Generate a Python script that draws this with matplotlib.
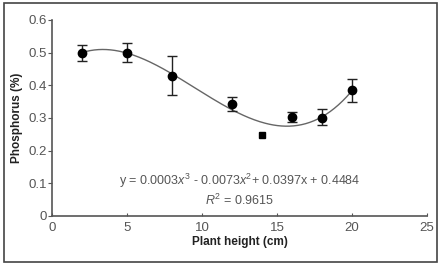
import matplotlib
matplotlib.use("Agg")
import matplotlib.pyplot as plt
from matplotlib.patches import Rectangle
import numpy as np

# mean values with error bars
height = [2, 5, 8, 12, 16, 18, 20]
phosphorus = [0.50, 0.50, 0.43, 0.343, 0.303, 0.30, 0.385]
err_low = [0.025, 0.03, 0.06, 0.023, 0.015, 0.022, 0.035]
err_high = [0.022, 0.03, 0.06, 0.021, 0.015, 0.027, 0.035]

# outlier point (square)
out_x = [14]
out_y = [0.248]

# points
curve_x = [2, 3.2, 5, 8, 11.4, 15.6, 18, 20]
curve_y = [0.50, 0.51, 0.50, 0.43, 0.345, 0.275, 0.30, 0.385]

FONT = ["Liberation Sans Narrow", "Liberation Sans", "DejaVu Sans"]
GREY = "#555555"
plt.rcParams["font.family"] = FONT
plt.rcParams["mathtext.fontset"] = "custom"
plt.rcParams["mathtext.rm"] = "Liberation Sans"
plt.rcParams["mathtext.it"] = "Liberation Sans:italic"

fig = plt.figure(figsize=(4.46, 2.70), dpi=100)
fig.patch.set_facecolor("white")
ax = fig.add_axes([0.117, 0.2, 0.84, 0.726])

coef = np.polyfit(curve_x, curve_y, 3)
xs = np.linspace(2, 20, 200)
ax.plot(xs, np.polyval(coef, xs), color="#666666", lw=1.0, zorder=1)

ax.errorbar(height, phosphorus, yerr=[err_low, err_high], fmt="o", color="black",
            ms=6, ecolor="#222222", elinewidth=1.0, capsize=3.5, capthick=1.0, zorder=3)
ax.plot(out_x, out_y, "s", color="black", ms=4.5, zorder=3)

ax.set_xlim(0, 25)
ax.set_ylim(0, 0.6)
ax.set_xticks([0, 5, 10, 15, 20, 25])
ax.set_yticks([0, 0.1, 0.2, 0.3, 0.4, 0.5, 0.6])
ax.set_yticklabels(["0", "0.1", "0.2", "0.3", "0.4", "0.5", "0.6"])
for s in ("top", "right"):
    ax.spines[s].set_visible(False)
for s in ("left", "bottom"):
    ax.spines[s].set_color(GREY)
    ax.spines[s].set_linewidth(1.2)
ax.tick_params(axis="y", direction="out", length=3, color=GREY, labelcolor=GREY,
               labelsize=9.5, pad=1)
ax.tick_params(axis="x", direction="in", length=2, color=GREY, labelcolor=GREY,
               labelsize=9.5, pad=4)

ax.set_xlabel("Plant height (cm)", fontsize=8.5, fontweight="bold", color="#222222", labelpad=2)
ax.set_ylabel("Phosphorus (%)", fontsize=8.5, fontweight="bold", color="#222222", labelpad=4)

ax.text(12.5, 0.107, r"y = 0.0003$\mathit{x}^{3}$ - 0.0073$\mathit{x}^{2}$+ 0.0397x + 0.4484",
        ha="center", va="center", fontsize=9, color=GREY)
ax.text(12.5, 0.049, r"$\mathit{R}^{2}$ = 0.9615", ha="center", va="center",
        fontsize=9, color=GREY)

fig.patches.append(Rectangle((4 / 446, 1 - 262 / 270), 433 / 446, 259 / 270,
                             transform=fig.transFigure, fill=False,
                             edgecolor="#444444", lw=1.2))

fig.savefig("out.png", dpi=100)
